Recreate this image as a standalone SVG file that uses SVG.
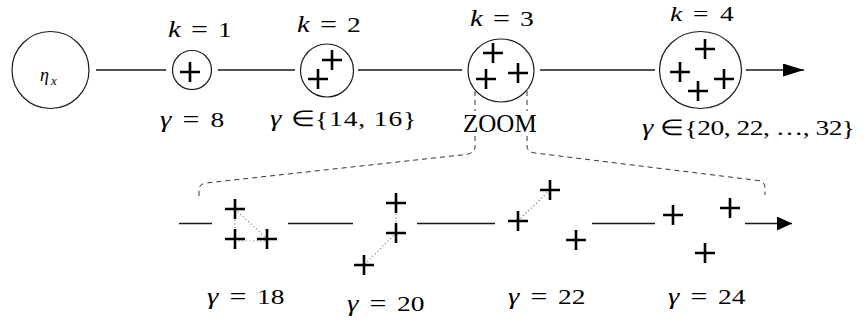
<svg xmlns="http://www.w3.org/2000/svg" width="868" height="323" viewBox="0 0 868 323">
<style>
  .node { fill: none; stroke: #1a1a1a; stroke-width: 1.2; }
  .edge { fill: none; stroke: #1a1a1a; stroke-width: 1.3; }
  .dash { fill: none; stroke: #333; stroke-width: 1; stroke-dasharray: 5 4; }
  .dot { fill: none; stroke: #777; stroke-width: 1.2; stroke-dasharray: 1 2.6; }
  .plus { fill: none; stroke: #000; stroke-width: 2.6; }
  .t { font-family: "Liberation Serif", serif; font-size: 22px; fill: #000; }
  .it { font-style: italic; font-size: 23px; }
  .eq { font-size: 24px; }
</style>
<defs>
  <path id="plus" d="M-10,0 H10 M0,-10 V10" class="plus"/>
  <marker id="arrowTop" markerUnits="userSpaceOnUse" markerWidth="22" markerHeight="14" refX="21" refY="6.5" orient="auto">
    <path d="M0,0 L21,6.5 L0,13 z" fill="#000"/>
  </marker>
  <marker id="arrowBot" markerUnits="userSpaceOnUse" markerWidth="16" markerHeight="14" refX="15" refY="7" orient="auto">
    <path d="M0,0 L15,7 L0,14 z" fill="#000"/>
  </marker>
</defs>
<rect width="868" height="323" fill="#fff"/>

<g id="connectors">
  <line class="edge" x1="96" y1="70" x2="166" y2="70"/>
  <line class="edge" x1="218" y1="70" x2="295" y2="70"/>
  <line class="edge" x1="358" y1="70" x2="462" y2="70"/>
  <line class="edge" x1="540" y1="70" x2="655" y2="70"/>
  <line class="edge" x1="746" y1="70" x2="804" y2="70" marker-end="url(#arrowTop)"/>
  <path class="dash" d="M475,91 V111 M475,136 V147 Q475,153 466,154.5 L206,183 Q199,184 199,190 V197"/>
  <path class="dash" d="M527,91 V111 M527,136 V146 Q527,152 535,153 L758,180.5 Q765,181.5 765,188 V195"/>
  <line class="edge" x1="179" y1="223.5" x2="212" y2="223.5"/>
  <line class="edge" x1="288" y1="223.5" x2="353" y2="223.5"/>
  <line class="edge" x1="417" y1="223.5" x2="495" y2="223.5"/>
  <line class="edge" x1="592" y1="223.5" x2="655" y2="223.5"/>
  <line class="edge" x1="745" y1="223.5" x2="792" y2="223.5" marker-end="url(#arrowBot)"/>
</g>

<g id="eta">
  <circle class="node" cx="50.5" cy="70" r="38.5"/>
  <text class="t" x="40" y="81" style="font-style:italic;font-size:18px">η<tspan x="51" y="85" style="font-size:13px">x</tspan></text>
</g>

<g id="k1">
  <circle class="node" cx="192" cy="70" r="19.5"/>
  <use href="#plus" x="190" y="72"/>
  <text class="t" transform="translate(168,37) scale(1.25,1)"><tspan class="it" x="0">k</tspan><tspan class="eq" x="18.5">=</tspan><tspan x="40">1</tspan></text>
  <text class="t" transform="translate(160,127) scale(1.25,1)"><tspan class="it" x="0">γ</tspan><tspan class="eq" x="18">=</tspan><tspan x="40.5">8</tspan></text>
</g>

<g id="k2">
  <circle class="node" cx="327" cy="70.5" r="26.5"/>
  <use href="#plus" x="332" y="60"/>
  <use href="#plus" x="318" y="79"/>
  <text class="t" transform="translate(297,32) scale(1.25,1)"><tspan class="it" x="0">k</tspan><tspan class="eq" x="18.5">=</tspan><tspan x="40">2</tspan></text>
  <text class="t" transform="translate(270,126) scale(1.25,1)"><tspan class="it" x="0">γ</tspan><tspan x="17">∈</tspan><tspan x="36" style="letter-spacing:0.7px">{14, 16}</tspan></text>
</g>

<g id="k3">
  <ellipse class="node" cx="501" cy="70.5" rx="33" ry="31.5"/>
  <use href="#plus" x="493" y="53"/>
  <use href="#plus" x="486" y="79"/>
  <use href="#plus" x="518" y="73"/>
  <text class="t" transform="translate(470,26) scale(1.25,1)"><tspan class="it" x="0">k</tspan><tspan class="eq" x="18.5">=</tspan><tspan x="40">3</tspan></text>
  <text class="t" x="463" y="132" style="font-size:25px">ZOOM</text>
</g>

<g id="k4">
  <ellipse class="node" cx="700.5" cy="70" rx="41" ry="38.5"/>
  <use href="#plus" x="705" y="49"/>
  <use href="#plus" x="680" y="72"/>
  <use href="#plus" x="724" y="79"/>
  <use href="#plus" x="698" y="91"/>
  <text class="t" transform="translate(670,21) scale(1.25,1)"><tspan x="0" style="font-style:italic">k</tspan><tspan x="18.5">=</tspan><tspan x="40">4</tspan></text>
  <text class="t" transform="translate(642,135) scale(1.25,1)"><tspan class="it" x="0">γ</tspan><tspan x="14.5">∈</tspan><tspan x="34" style="letter-spacing:-0.4px">{20, 22, …, 32}</tspan></text>
</g>

<g id="g18">
  <line class="dot" x1="235" y1="209" x2="235" y2="239"/>
  <line class="dot" x1="235" y1="209" x2="267" y2="239"/>
  <line class="dot" x1="235" y1="241" x2="267" y2="241"/>
  <use href="#plus" x="235" y="209"/>
  <use href="#plus" x="235" y="239"/>
  <use href="#plus" x="267" y="239"/>
  <text class="t" transform="translate(207,304) scale(1.25,1)"><tspan class="it" x="0">γ</tspan><tspan class="eq" x="18">=</tspan><tspan x="40">18</tspan></text>
</g>

<g id="g20">
  <line class="dot" x1="396" y1="203" x2="396" y2="233"/>
  <line class="dot" x1="396" y1="233" x2="364" y2="265"/>
  <use href="#plus" x="396" y="203"/>
  <use href="#plus" x="396" y="233"/>
  <use href="#plus" x="364" y="265"/>
  <text class="t" transform="translate(347,311) scale(1.25,1)"><tspan class="it" x="0">γ</tspan><tspan class="eq" x="18">=</tspan><tspan x="40">20</tspan></text>
</g>

<g id="g22">
  <line class="dot" x1="518" y1="221" x2="550" y2="190"/>
  <use href="#plus" x="518" y="221"/>
  <use href="#plus" x="550" y="190"/>
  <use href="#plus" x="576" y="240"/>
  <text class="t" transform="translate(508,304) scale(1.25,1)"><tspan class="it" x="0">γ</tspan><tspan class="eq" x="18">=</tspan><tspan x="40">22</tspan></text>
</g>

<g id="g24">
  <use href="#plus" x="673" y="215"/>
  <use href="#plus" x="730" y="208"/>
  <use href="#plus" x="705" y="253"/>
  <text class="t" transform="translate(668,304) scale(1.25,1)"><tspan class="it" x="0">γ</tspan><tspan class="eq" x="18">=</tspan><tspan x="40">24</tspan></text>
</g>
</svg>
